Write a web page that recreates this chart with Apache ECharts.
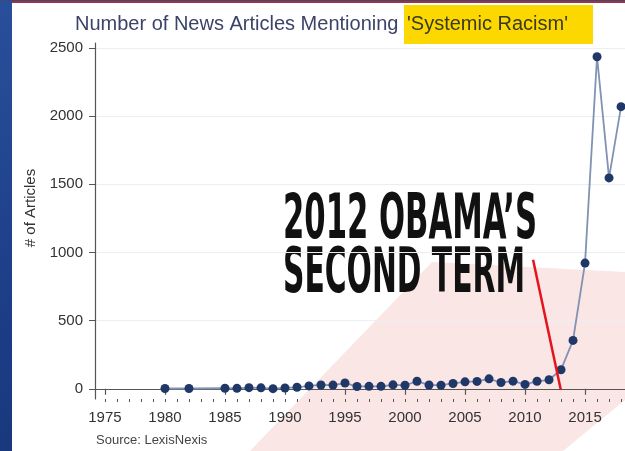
<!DOCTYPE html>
<html>
<head>
<meta charset="utf-8">
<script src="https://cdn.jsdelivr.net/npm/echarts@6/dist/echarts.min.js"></script>
<style>
  html, body { margin: 0; padding: 0; width: 625px; height: 451px; overflow: hidden; }
  #bg { position: absolute; left: 0; top: 0; width: 625px; height: 451px;
        background: linear-gradient(160deg, #2a4f9a 0%, #1b3c85 50%, #16326f 100%); }
  #topline { position: absolute; left: 0; top: 0; width: 625px; height: 1px; background: #3a4a78; }
  #redline { position: absolute; left: 12px; top: 1px; width: 613px; height: 2px; background: #a4323e; }
  #panel { position: absolute; left: 12px; top: 3px; width: 613px; height: 448px; background: #ffffff; }
  #pink { position: absolute; left: 0; top: 0; width: 625px; height: 451px; background: #fbe6e6;
          clip-path: polygon(250px 451px, 432px 262px, 625px 272px, 625px 400px, 563px 451px); }
  #chart { position: absolute; left: 0; top: 0; width: 625px; height: 451px; }
</style>
</head>
<body>
<div id="bg"></div>
<div id="topline"></div>
<div id="redline"></div>
<div id="panel"></div>
<div id="pink"></div>
<div id="chart"></div>
<script>
// ---- data ----
const years = [1980, 1982, 1985, 1986, 1987, 1988, 1989, 1990, 1991, 1992, 1993, 1994, 1995,
               1996, 1997, 1998, 1999, 2000, 2001, 2002, 2003, 2004, 2005, 2006, 2007, 2008,
               2009, 2010, 2011, 2012, 2013, 2014, 2015, 2016, 2017, 2018];
const articles = [2, 2, 4, 3, 8, 7, 1, 6, 11, 21, 28, 27, 42,
                  17, 18, 18, 29, 26, 55, 28, 26, 39, 51, 54, 73, 46,
                  56, 32, 55, 66, 140, 355, 922, 2436, 1547, 2070];
const xTickLabels = [1975, 1980, 1985, 1990, 1995, 2000, 2005, 2010, 2015];
const xMinorTicks = [1975, 1976, 1977, 1978, 1979, 1980, 1981, 1982, 1983, 1984, 1985, 1986,
                     1987, 1988, 1989, 1990, 1991, 1992, 1993, 1994, 1995, 1996, 1997, 1998,
                     1999, 2000, 2001, 2002, 2003, 2004, 2005, 2006, 2007, 2008, 2009, 2010,
                     2011, 2012, 2013, 2014, 2015, 2016, 2017, 2018];
const yTickLabels = [0, 500, 1000, 1500, 2000, 2500];
const titleMain = 'Number of News Articles Mentioning ';
const titleHighlight = "'Systemic Racism'";
const yName = '# of Articles';
const sourceText = 'Source: LexisNexis';
const annotationLines = ["2012 OBAMA\u2019S", 'SECOND TERM'];
// annotation pointer (data coordinates: year, articles)
const pointerStart = [2010.67, 946];
const pointerEnd = [2012.98, -7];

// ---- helpers ----
const FONT = '"Liberation Sans", Arial, Helvetica, sans-serif';
const ANN_FONT = '"Liberation Sans Narrow", "DejaVu Sans Condensed", "Liberation Sans", sans-serif';
const annSize = 62;
function measure(text) {
  const c = document.createElement('canvas').getContext('2d');
  c.font = 'bold ' + annSize + 'px ' + ANN_FONT;
  return c.measureText(text).width;
}
const annTargets = [254, 242];
const annScale = annotationLines.map((t, i) => annTargets[i] / measure(t));

const chart = echarts.init(document.getElementById('chart'), null, { renderer: 'canvas' });
const axisColor = '#555555';
const labelColor = '#333333';

chart.setOption({
  backgroundColor: 'transparent',
  animation: false,
  title: {
    text: '{a|' + titleMain + '}{h|' + titleHighlight + '}',
    left: 75, top: 5, padding: 0,
    textStyle: {
      fontWeight: 'normal',
      rich: {
        a: { fontSize: 20, fontFamily: FONT, fontWeight: 'normal', color: '#3b4468' },
        h: { fontSize: 20, fontFamily: FONT, fontWeight: 'normal', color: '#3a3a22', backgroundColor: '#fcd700',
             padding: [9, 25, 10, 3] }
      }
    }
  },
  grid: { left: 95, top: 43, right: 0, bottom: 52, containLabel: false },
  xAxis: [{
    type: 'value', min: 1974.17, max: 2018.33,
    axisLine: { show: true, lineStyle: { color: axisColor, width: 1.2 } },
    axisTick: { show: true, length: 6, customValues: xTickLabels, lineStyle: { color: axisColor, width: 1.2 } },
    axisLabel: { customValues: xTickLabels, fontSize: 15, fontFamily: FONT, color: labelColor, margin: 11,
                 formatter: v => String(v) },
    splitLine: { show: false }
  }, {
    type: 'value', min: 1974.17, max: 2018.33, position: 'bottom',
    axisLine: { show: false },
    axisTick: { show: true, length: 3, customValues: xMinorTicks, lineStyle: { color: axisColor, width: 1 } },
    axisLabel: { show: false },
    splitLine: { show: false }
  }],
  yAxis: {
    type: 'value', min: -75, max: 2537,
    name: yName, nameLocation: 'middle', nameGap: 46, nameRotate: 90,
    nameTextStyle: { fontSize: 15, fontFamily: FONT, color: labelColor, padding: [0, 0, 0, 26] },
    axisLine: { show: true, lineStyle: { color: axisColor, width: 1.2 } },
    axisTick: { show: true, length: 6, customValues: yTickLabels, lineStyle: { color: axisColor, width: 1 } },
    axisLabel: { customValues: yTickLabels, fontSize: 15, fontFamily: FONT, color: labelColor, margin: 12,
                 formatter: v => String(v) },
    splitLine: { show: true, lineStyle: { color: '#eceef3', width: 1 } }
  },
  series: [{
    type: 'line',
    data: years.map((y, i) => [y, articles[i]]),
    symbol: 'circle', symbolSize: 9,
    itemStyle: { color: '#1f3867' },
    lineStyle: { color: '#8192b3', width: 1.8 },
    z: 3,
    markLine: {
      silent: true, symbol: ['none', 'none'], animation: false,
      label: { show: false },
      lineStyle: { color: '#e5131c', width: 2.5, type: 'solid' },
      data: [[{ coord: pointerStart }, { coord: pointerEnd }]]
    }
  }],
  graphic: {
    elements: [
      { type: 'text', left: 96, top: 434,
        style: { text: sourceText, font: '13px ' + FONT, fill: '#444444' } },
      { type: 'text', x: 283, y: 222, scaleX: annScale[0], originX: 0,
        style: { text: annotationLines[0], font: 'bold ' + annSize + 'px ' + ANN_FONT, fill: '#111111',
                 verticalAlign: 'middle', align: 'left' } },
      { type: 'text', x: 283, y: 276, scaleX: annScale[1], originX: 0,
        style: { text: annotationLines[1], font: 'bold ' + annSize + 'px ' + ANN_FONT, fill: '#111111',
                 verticalAlign: 'middle', align: 'left' } }
    ]
  }
});
</script>
</body>
</html>
